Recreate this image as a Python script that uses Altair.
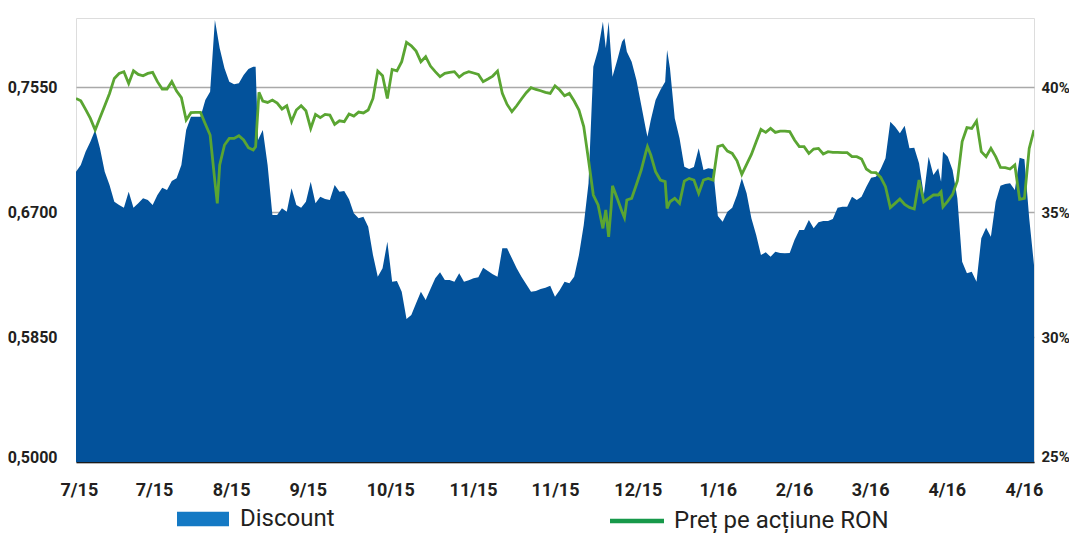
import altair as alt
import pandas as pd

# ---- data ----
area_days = [0, 1, 2, 3, 4, 5, 6, 7, 8, 9, 10, 11, 12, 13, 14, 15, 16, 17, 18, 19,
             20, 21, 22, 23, 24, 25, 26, 27, 28, 29, 30, 31, 32, 33, 34, 35, 36, 37, 37.5, 38,
             39, 40, 41, 42, 43, 44, 45, 46, 47, 48, 49, 50, 51, 52, 53, 54, 55, 56, 57, 58,
             59, 60, 61, 62, 63, 64, 65, 66, 67, 68, 69, 70, 71, 72, 73, 74, 75, 76, 77, 78,
             79, 80, 81, 82, 83, 84, 85, 86, 87, 88, 89, 90, 91, 92, 93, 94, 95, 96, 97, 98,
             99, 100, 101, 102, 103, 104, 105, 106, 107, 108, 109, 110, 110.6, 111.2, 112, 113, 114, 114.5, 115, 116,
             117, 118, 119, 119.3, 120, 121, 122, 123, 123.4, 124, 125, 126, 127, 128, 129, 130, 131, 132, 133, 134,
             135, 136, 137, 138, 139, 140, 141, 142, 143, 144, 145, 146, 147, 148, 149, 150, 151, 152, 153, 154,
             155, 156, 157, 158, 159, 160, 161, 162, 163, 164, 165, 166, 167, 168, 169, 170, 171, 172, 173, 174,
             175, 176, 177, 178, 179, 180, 180.6, 181, 182, 183, 184, 185, 186, 187, 188, 189, 190, 191, 192, 193,
             194, 195, 196, 197, 198, 199, 200]
discount_pct = [36.61, 36.88, 37.41, 37.81, 38.28, 37.55, 36.61, 36.08, 35.41, 35.28, 35.17, 35.81, 35.17, 35.35, 35.55, 35.48, 35.28, 35.68, 35.97, 35.88,
                36.24, 36.35, 36.88, 38.28, 38.81, 38.81, 38.81, 39.48, 39.81, 42.68, 41.55, 40.75, 40.21, 40.11, 40.15, 40.48, 40.72, 40.81, 40.81, 37.88,
                38.28, 36.88, 34.88, 34.88, 35.15, 35.01, 35.95, 35.28, 35.17, 35.41, 36.21, 35.35, 35.61, 35.52, 35.48, 36.08, 35.81, 35.84, 35.51, 34.95,
                34.75, 34.81, 34.41, 33.28, 32.41, 32.75, 33.81, 32.21, 32.24, 31.81, 30.72, 30.88, 31.35, 31.81, 31.48, 31.92, 32.35, 32.59, 32.28, 32.28,
                32.21, 32.55, 32.21, 32.27, 32.35, 32.39, 32.77, 32.64, 32.51, 32.41, 33.55, 33.55, 33.15, 32.75, 32.41, 32.11, 31.81, 31.84, 31.92, 31.97,
                32.05, 31.61, 31.88, 32.21, 32.15, 32.41, 33.28, 34.48, 36.15, 40.81, 41.48, 42.61, 41.55, 42.61, 40.41, 41.08, 41.81, 41.95, 41.41, 41.01,
                40.28, 39.28, 38.28, 38.01, 38.68, 39.48, 39.88, 40.21, 41.48, 40.75, 38.75, 37.95, 36.81, 36.72, 36.80, 37.55, 36.68, 36.75, 36.72, 34.84,
                34.61, 35.01, 35.17, 35.68, 36.35, 35.75, 34.75, 34.08, 33.28, 33.39, 33.21, 33.41, 33.36, 33.35, 33.36, 33.88, 34.28, 34.28, 34.68, 34.35,
                34.59, 34.64, 34.64, 34.72, 35.17, 35.21, 35.21, 35.61, 35.48, 35.61, 36.01, 36.37, 36.41, 36.72, 37.15, 38.61, 38.41, 38.15, 38.45, 37.55,
                37.57, 36.95, 35.68, 37.21, 36.48, 36.75, 36.21, 37.41, 37.21, 36.68, 35.55, 33.01, 32.55, 32.61, 32.21, 33.95, 34.37, 34.01, 35.41, 36.05,
                36.12, 36.15, 35.88, 37.17, 37.11, 34.75, 32.88]

line_days = [0, 1, 2, 3, 4, 5, 6, 7, 8, 9, 10, 11, 12, 13, 14, 15, 16, 17, 18, 19,
             20, 21, 22, 23, 24, 25, 26, 27, 28, 29, 29.5, 30, 31, 32, 33, 34, 35, 36, 37, 37.5,
             38.2, 39, 40, 41, 42, 43, 44, 45, 46, 47, 48, 49, 50, 51, 52, 53, 54, 55, 56, 57,
             58, 59, 60, 61, 62, 63, 64, 65, 66, 67, 68, 69, 70, 71, 72, 73, 74, 75, 76, 77,
             78, 79, 80, 81, 82, 83, 84, 85, 86, 87, 88, 89, 90, 91, 92, 93, 94, 95, 96, 97,
             98, 99, 100, 101, 102, 103, 104, 105, 106, 107, 108, 109, 110, 110.6, 111.2, 111.7, 112, 113, 114, 114.5,
             115, 116, 117, 118, 119, 119.3, 120, 121, 122, 123, 123.4, 124, 125, 126, 127, 128, 129, 130, 131, 132,
             133, 134, 135, 136, 137, 138, 139, 140, 141, 142, 143, 144, 145, 146, 147, 148, 149, 150, 151, 152,
             153, 154, 155, 156, 157, 158, 159, 160, 161, 162, 163, 164, 165, 166, 167, 168, 169, 170, 171, 172,
             173, 174, 175, 176, 177, 178, 179, 180, 180.6, 181, 182, 183, 184, 185, 186, 187, 188, 189, 190, 191,
             192, 193, 194, 195, 196, 197, 198, 199, 200]
price_ron = [0.7473, 0.7457, 0.7398, 0.7337, 0.7258, 0.7342, 0.7423, 0.7507, 0.7609, 0.7643, 0.7655, 0.7575, 0.7661, 0.7636, 0.7627, 0.7643, 0.7650, 0.7587, 0.7537, 0.7537,
             0.7587, 0.7523, 0.7478, 0.7326, 0.7376, 0.7378, 0.7378, 0.7299, 0.7224, 0.6907, 0.6759, 0.7020, 0.7156, 0.7201, 0.7201, 0.7219, 0.7190, 0.7138, 0.7122, 0.7145,
             0.7514, 0.7455, 0.7446, 0.7462, 0.7441, 0.7401, 0.7423, 0.7315, 0.7394, 0.7423, 0.7389, 0.7269, 0.7364, 0.7342, 0.7364, 0.7360, 0.7296, 0.7321, 0.7315, 0.7367,
             0.7353, 0.7380, 0.7374, 0.7394, 0.7473, 0.7659, 0.7627, 0.7473, 0.7670, 0.7661, 0.7723, 0.7854, 0.7831, 0.7795, 0.7723, 0.7757, 0.7693, 0.7655, 0.7621, 0.7643,
             0.7650, 0.7655, 0.7618, 0.7643, 0.7655, 0.7646, 0.7636, 0.7587, 0.7605, 0.7625, 0.7659, 0.7507, 0.7432, 0.7383, 0.7423, 0.7469, 0.7512, 0.7546, 0.7534, 0.7525,
             0.7514, 0.7507, 0.7559, 0.7530, 0.7491, 0.7507, 0.7455, 0.7394, 0.7281, 0.7054, 0.6816, 0.6748, 0.6589, 0.6714, 0.6532, 0.6725, 0.6879, 0.6793, 0.6702, 0.6662,
             0.6782, 0.6793, 0.6888, 0.6986, 0.7111, 0.7145, 0.7088, 0.6975, 0.6918, 0.6907, 0.6725, 0.6770, 0.6793, 0.6759, 0.6911, 0.6929, 0.6918, 0.6827, 0.6918, 0.6929,
             0.6918, 0.7145, 0.7156, 0.7115, 0.7099, 0.7049, 0.6956, 0.7024, 0.7092, 0.7179, 0.7262, 0.7242, 0.7269, 0.7242, 0.7251, 0.7251, 0.7247, 0.7190, 0.7145, 0.7145,
             0.7099, 0.7129, 0.7133, 0.7095, 0.7111, 0.7106, 0.7106, 0.7104, 0.7104, 0.7077, 0.7077, 0.7061, 0.6993, 0.6970, 0.6968, 0.6936, 0.6873, 0.6730, 0.6759, 0.6789,
             0.6752, 0.6732, 0.6721, 0.6918, 0.6770, 0.6793, 0.6816, 0.6816, 0.6838, 0.6736, 0.6775, 0.6820, 0.6911, 0.7179, 0.7274, 0.7269, 0.7319, 0.7111, 0.7077, 0.7133,
             0.7077, 0.7004, 0.7002, 0.6993, 0.7020, 0.6786, 0.6793, 0.7133, 0.7258]

tick_days = [0.6, 16.3, 32.4, 48.4, 65.6, 82.9, 100.0, 117.3, 134.0, 149.9, 165.8, 181.8, 197.9]
tick_labels = ["7/15", "7/15", "8/15", "9/15", "10/15", "11/15", "11/15", "12/15",
               "1/16", "2/16", "3/16", "4/16", "4/16"]
price_ticks = [0.5, 0.585, 0.67, 0.755]
pct_ticks = [25, 30, 35, 40]
series_names = ["Discount", "Preț pe acțiune RON"]

df_area = pd.DataFrame({"day": area_days, "discount": discount_pct})
df_line = pd.DataFrame({"day": line_days, "price": price_ron})

FONT = "Roboto"
TXT = "#231f20"
W, H = 958, 444
x_dom = [0, 200]
price_dom = [0.5, 0.802]
pct_dom = [25, 25 + (price_dom[1] - 0.5) / 0.085 * 5]

label_expr = ("[" + ",".join("'%s'" % l for l in tick_labels) + "][indexof(["
              + ",".join(str(t) for t in tick_days) + "], datum.value)]")


def x_enc():
    return alt.X("day:Q", scale=alt.Scale(domain=x_dom, nice=False, zero=False),
                 axis=alt.Axis(values=tick_days, labelExpr=label_expr, title=None, grid=False,
                               ticks=False, domain=True, domainColor="#1b1b1b", domainWidth=1.6,
                               labelFont=FONT, labelFontWeight="bold", labelFontSize=18,
                               labelColor=TXT, labelPadding=19, labelFlush=False))


area = alt.Chart(df_area).mark_area(color="#03529b", clip=True, interpolate="linear").encode(
    x=x_enc(),
    y=alt.Y("discount:Q", scale=alt.Scale(domain=pct_dom, nice=False, zero=False),
            axis=alt.Axis(orient="right", values=pct_ticks, labelExpr="datum.value + '%'",
                          title=None, grid=False, ticks=False, domain=False,
                          labelFont=FONT, labelFontWeight="bold", labelFontSize=15,
                          labelColor=TXT, labelPadding=7,
                          labelOffset={"condition": {"test": "datum.value == 25", "value": -6},
                                       "value": 0})),
)

line = alt.Chart(df_line).mark_line(color="#5aa532", strokeWidth=2.8, clip=True).encode(
    x=x_enc(),
    y=alt.Y("price:Q", scale=alt.Scale(domain=price_dom, nice=False, zero=False),
            axis=alt.Axis(orient="left", values=price_ticks,
                          labelExpr="replace(format(datum.value, '.4f'), '.', ',')",
                          title=None, grid=True, gridColor="#a9a9a9", gridWidth=1.3,
                          ticks=False, domain=False,
                          labelFont=FONT, labelFontWeight="bold", labelFontSize=16,
                          labelColor=TXT, labelPadding=19,
                          labelOffset={"condition": {"test": "datum.value == 0.5", "value": -5},
                                       "value": 0})),
)

leg_fill = alt.Chart(alt.Data(values=[{"s": series_names[0]}])).mark_point(
    opacity=0, filled=True).encode(
    fill=alt.Fill("s:N", scale=alt.Scale(domain=[series_names[0]], range=["#1479c4"]),
                  legend=alt.Legend(orient="none", legendX=114, legendY=488, title=None,
                                    padding=0, symbolType="M-2,-0.55L2,-0.55L2,0.55L-2,0.55Z",
                                    symbolSize=676, symbolOpacity=1, symbolStrokeWidth=0,
                                    labelOffset=24, labelFont=FONT, labelFontSize=24,
                                    labelColor=TXT, labelLimit=400))
)

leg_stroke = alt.Chart(alt.Data(values=[{"s": series_names[1]}])).mark_point(
    opacity=0, filled=False).encode(
    stroke=alt.Stroke("s:N", scale=alt.Scale(domain=[series_names[1]], range=["#17994a"]),
                      legend=alt.Legend(orient="none", legendX=545, legendY=487, title=None,
                                        padding=0, symbolType="M-2,0L2,0", symbolSize=729,
                                        symbolOpacity=1, symbolStrokeWidth=4.5,
                                        labelOffset=21, labelFont=FONT, labelFontSize=24,
                                        labelColor=TXT, labelLimit=400))
)

chart = alt.layer(area, line, leg_fill, leg_stroke).resolve_scale(
    y="independent", fill="independent", stroke="independent"
).properties(
    width=W, height=H,
    autosize=alt.AutoSizeParams(type="none"),
    padding={"left": 68, "top": 10, "right": 35, "bottom": 71}
).configure_view(stroke=None).configure(background="white")

chart.save("out.html", embed_options={"renderer": "svg", "actions": False})
